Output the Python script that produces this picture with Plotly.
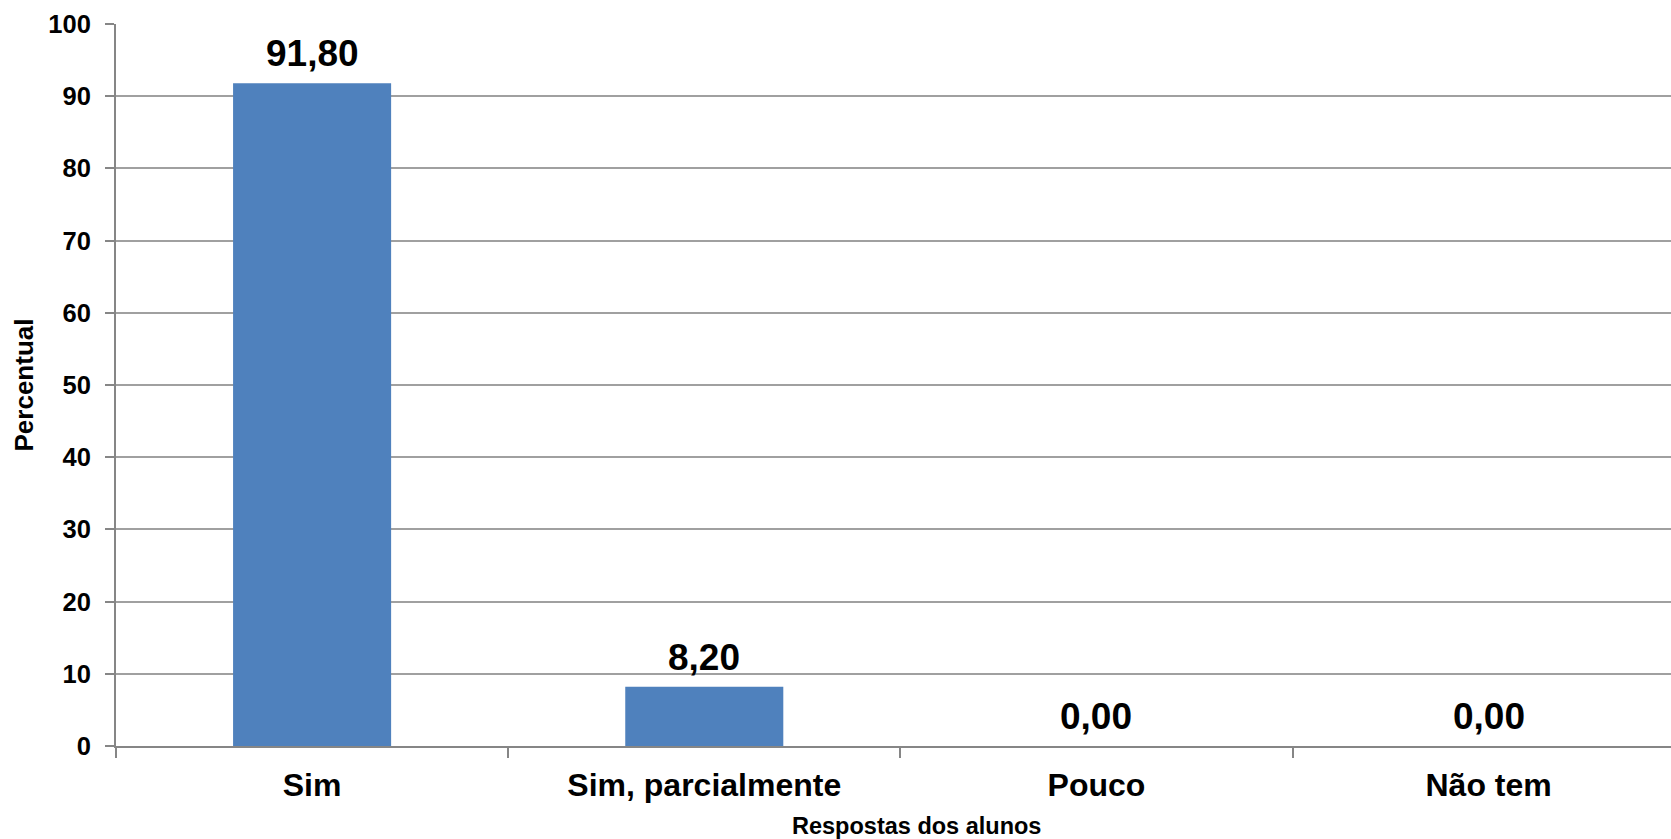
import plotly.graph_objects as go

categories = ["Sim", "Sim, parcialmente", "Pouco", "Não tem"]
values = [91.80, 8.20, 0.00, 0.00]
y_ticks = [0, 10, 20, 30, 40, 50, 60, 70, 80, 90, 100]

FONT = "Arial, 'Liberation Sans', sans-serif"

fig = go.Figure(
    go.Bar(
        x=categories,
        y=values,
        marker=dict(color="#4F81BD", line=dict(width=0)),
        hoverinfo="x+y",
    )
)

for cat, val in zip(categories, values):
    fig.add_annotation(
        x=cat,
        y=val,
        text=f"{val:.2f}".replace(".", ","),
        showarrow=False,
        yanchor="bottom",
        yshift=7,
        font=dict(family=FONT, size=37, color="black", weight="bold"),
    )

# x-axis title (slightly right of centre, as in the original)
fig.add_annotation(
    text="Respostas dos alunos",
    xref="paper", yref="paper",
    x=0.515, y=-0.1113,
    xanchor="center", yanchor="middle",
    showarrow=False,
    font=dict(family=FONT, size=23.5, color="black", weight="bold"),
)

fig.update_layout(
    width=1671,
    height=839,
    margin=dict(l=116, r=0, t=24, b=93, autoexpand=False),
    paper_bgcolor="white",
    plot_bgcolor="white",
    separators=",.",
    bargap=0.597,
    showlegend=False,
    font=dict(family=FONT, color="black"),
)

fig.update_xaxes(
    automargin=False,
    range=[-0.5, 3.465],
    showline=True,
    linecolor="#868686",
    linewidth=2,
    ticks="outside",
    tickson="boundaries",
    ticklen=10,
    tickcolor="#868686",
    tickwidth=2,
    tickfont=dict(family=FONT, size=32, color="black", weight="bold"),
    ticklabelstandoff=10,
    showgrid=False,
)

fig.update_yaxes(
    automargin=False,
    range=[0, 100],
    tickvals=y_ticks,
    showline=True,
    linecolor="#868686",
    linewidth=2,
    ticks="outside",
    ticklen=9,
    tickcolor="#868686",
    tickwidth=2,
    tickfont=dict(family=FONT, size=25.5, color="black", weight="bold"),
    ticklabelstandoff=9,
    showgrid=True,
    gridcolor="#A0A0A0",
    gridwidth=1.5,
    zeroline=False,
    title=dict(text="Percentual", font=dict(family=FONT, size=26, color="black", weight="bold"), standoff=7),
)

fig.write_html(
    "out.html",
    config={"displayModeBar": False},
    post_script="document.body.style.margin='0';document.body.style.overflow='hidden';",
)
